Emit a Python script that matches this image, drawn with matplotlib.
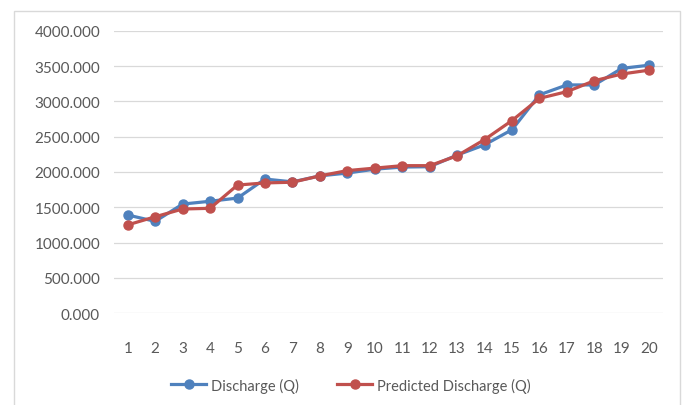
import matplotlib.pyplot as plt
from matplotlib.patches import Rectangle

# data
x = list(range(1, 21))
discharge = [1390, 1300, 1545, 1585, 1630, 1900, 1860, 1945, 1985, 2040,
             2070, 2075, 2240, 2385, 2600, 3095, 3235, 3235, 3470, 3515]
predicted = [1250, 1365, 1475, 1485, 1815, 1845, 1855, 1945, 2020, 2055,
             2090, 2090, 2230, 2460, 2730, 3045, 3140, 3295, 3390, 3445]
yticks = [0, 500, 1000, 1500, 2000, 2500, 3000, 3500, 4000]

plt.rcParams['font.family'] = ['Lato', 'DejaVu Sans']

W, H = 686, 406
fig = plt.figure(figsize=(W / 100, H / 100), dpi=100)
ax = fig.add_axes([114 / W, 1 - 314 / H, 549 / W, 282 / H])

# outer chart border
fig.patches.append(Rectangle((14 / W, -0.02), 666 / W, 1 - 12 / H + 0.02,
                             transform=fig.transFigure, fill=False,
                             edgecolor='#D9D9D9', linewidth=1))

ax.plot(x, discharge, color='#4F81BD', lw=2.3, marker='o', ms=6.5,
        label='Discharge (Q)', zorder=3)
ax.plot(x, predicted, color='#C0504D', lw=2.3, marker='o', ms=6.5,
        label='Predicted Discharge (Q)', zorder=4)

ax.set_xlim(0.5, 20.5)
ax.set_ylim(0, 4000)
ax.set_xticks(x)
ax.set_yticks(yticks)
ax.set_yticklabels([f'{v:.3f}' for v in yticks])
ax.grid(axis='y', color='#D9D9D9', lw=0.9)
ax.set_axisbelow(True)
for s in ax.spines.values():
    s.set_visible(False)
ax.tick_params(length=0, colors='#595959', labelsize=11)
ax.tick_params(axis='y', pad=10)
ax.tick_params(axis='x', pad=20)

fig.legend(loc='center', bbox_to_anchor=(351 / W, 1 - 386 / H), ncol=2,
           frameon=False, fontsize=10.5, labelcolor='#595959',
           handlelength=2.4, columnspacing=2.6, handletextpad=0.35)

fig.savefig('out.png', dpi=100)
